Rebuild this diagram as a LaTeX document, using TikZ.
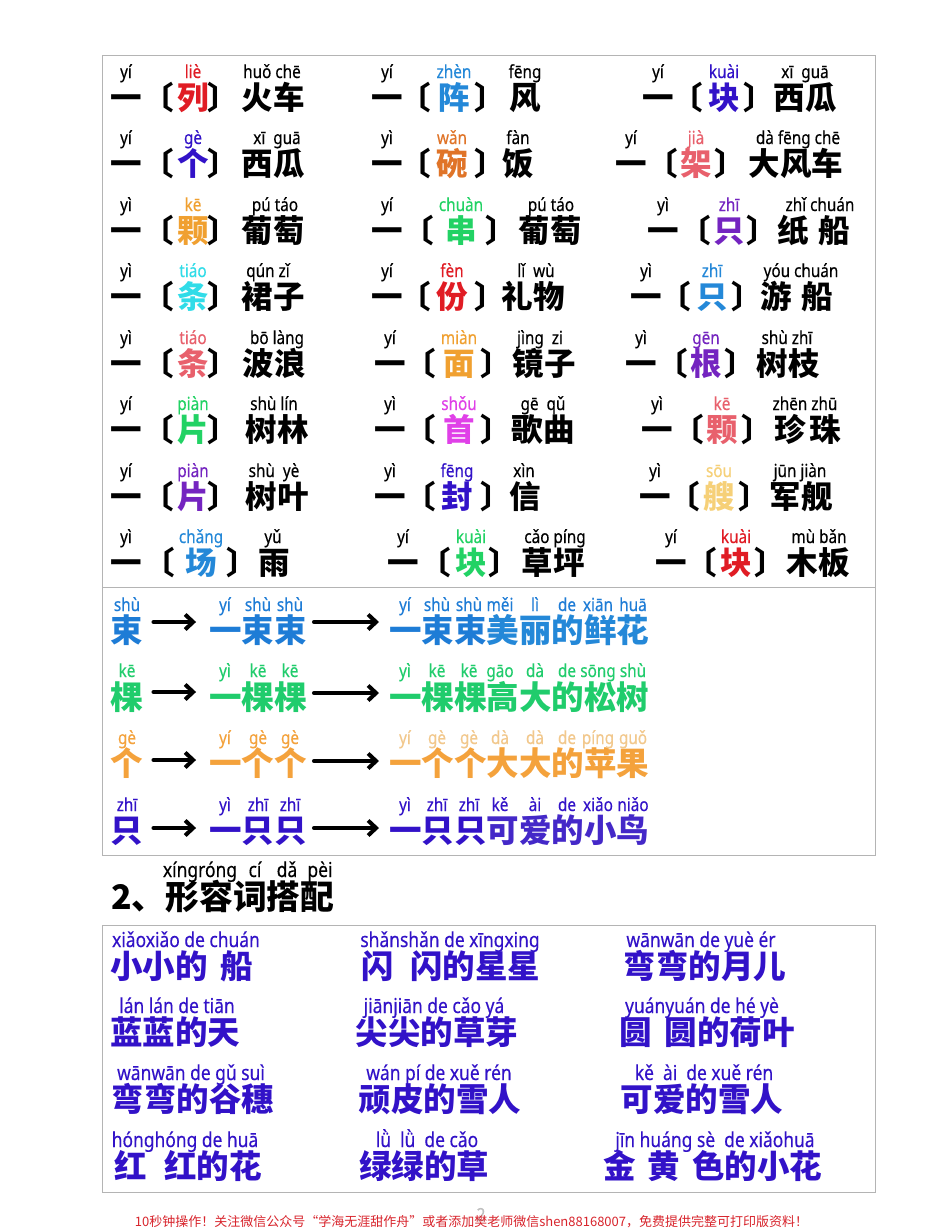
\documentclass[tikz,border=0pt]{standalone}
\usepackage{fontspec}
\usepackage{tikz}
\usetikzlibrary{arrows.meta}
\newfontfamily\cjk{Noto Sans CJK SC}
\newfontfamily\pyfont[FakeStretch=0.85,FakeBold=0.3]{Noto Sans}
\definecolor{boxgray}{HTML}{B4B4B4}
\definecolor{cred}{HTML}{E01C24}
\definecolor{cblue}{HTML}{2488D8}
\definecolor{cindigo}{HTML}{3212C8}
\definecolor{corange}{HTML}{E07428}
\definecolor{cpink}{HTML}{E8606C}
\definecolor{camber}{HTML}{F0A030}
\definecolor{cgreen}{HTML}{22D264}
\definecolor{cpurple}{HTML}{7424C0}
\definecolor{ccyan}{HTML}{30DCE8}
\definecolor{cmagenta}{HTML}{E040E8}
\definecolor{csand}{HTML}{F6D078}
\definecolor{sblue}{HTML}{1E7CD6}
\definecolor{sgreen}{HTML}{20CC6C}
\definecolor{sorange}{HTML}{F4A23C}
\definecolor{spale}{HTML}{F2C88C}
\definecolor{sviolet}{HTML}{4428C8}
\definecolor{footred}{HTML}{D8242C}
\begin{document}
\begin{tikzpicture}[
x=1pt,y=-1pt,
hanzi/.style={font=\cjk\bfseries\fontsize{31.5}{31.5}\selectfont,inner sep=0pt,anchor=base},
bighan/.style={font=\cjk\bfseries\fontsize{32.5}{32.5}\selectfont,inner sep=0pt,anchor=base},
pinyin/.style={font=\pyfont\fontsize{18}{18}\selectfont,inner sep=0pt,anchor=base},
bigpinyin/.style={font=\pyfont\fontsize{20.5}{20.5}\selectfont,inner sep=0pt,anchor=base},
flow/.style={line width=4pt,line cap=round,-{Straight Barb[length=8pt,width=15pt,line width=4pt]}},
shortflow/.style={flow,shorten <=10pt,shorten >=13pt},
longflow/.style={flow,shorten <=7pt,shorten >=10pt}
]
    \useasboundingbox (0,0) rectangle (950,1232);
    \fill [white] (0,0) rectangle (950,1232);

    % Draw frames
    \draw [boxgray,line width=1pt] (102,55) rectangle (875,587);
    \draw [boxgray,line width=1pt] (102,587) rectangle (875,855);
    \draw [boxgray,line width=1pt] (102,925) rectangle (875,1192);

    % measure words
    \foreach \ry/\xa/\pa/\xl/\xm/\xr/\pym/\hz/\col/\xp/\pn/\xn/\nn [count=\i] in {
        98/126/yí/166/193/215/liè/列/cred/272/huǒ chē/273/火车,
        98/387/yí/423/454/482/zhèn/阵/cblue/525/fēng/525/风,
        98/658/yí/695/724/751/kuài/块/cindigo/805/xī\ \ guā/805/西瓜,
        164/126/yí/166/193/215/gè/个/cindigo/277/xī\ \ guā/273/西瓜,
        164/387/yì/423/452/482/wǎn/碗/corange/518/fàn/518/饭,
        164/631/yí/670/696/722/jià/架/cpink/798/dà fēng chē/796/大风车,
        231/126/yì/166/193/215/kē/颗/camber/275/pú táo/273/葡萄,
        231/387/yí/426/461/493/chuàn/串/cgreen/551/pú táo/550/葡萄,
        231/663/yì/703/729/754/zhī/只/cpurple/820/zhǐ chuán/814/纸\hspace{10pt}船,
        297/126/yì/166/193/215/tiáo/条/ccyan/268/qún zǐ/273/裙子,
        297/387/yí/423/452/482/fèn/份/cred/536/lǐ\ \ wù/533/礼物,
        297/646/yì/683/712/739/zhī/只/cblue/801/yóu chuán/797/游\hspace{10pt}船,
        364/126/yì/166/193/215/tiáo/条/cpink/277/bō làng/274/波浪,
        364/390/yí/428/459/488/miàn/面/camber/540/jìng\ \ zi/544/镜子,
        364/641/yì/680/706/732/gēn/根/cpurple/787/shù zhī/788/树枝,
        430/126/yí/166/193/215/piàn/片/cgreen/274/shù lín/277/树林,
        430/390/yì/428/459/488/shǒu/首/cmagenta/543/gē\ \ qǔ/543/歌曲,
        430/657/yì/696/722/749/kē/颗/cpink/805/zhēn zhū/808/珍\hspace{4pt}珠,
        497/126/yí/166/193/215/piàn/片/cpurple/274/shù\ \ yè/277/树叶,
        497/390/yì/428/457/488/fēng/封/cindigo/524/xìn/525/信,
        497/655/yì/692/719/746/sōu/艘/csand/800/jūn jiàn/801/军舰,
        563/126/yì/167/201/234/chǎng/场/cblue/273/yǔ/274/雨,
        563/403/yí/443/471/496/kuài/块/cgreen/555/cǎo píng/553/草坪,
        563/671/yí/709/736/762/kuài/块/cred/819/mù bǎn/818/木板} {
        \node [pinyin] (yipy\i) at (\xa,\ry-20) {\pa};
        \node [hanzi] (yihan\i) at (\xa,\ry+11.5) {一};
        \node [hanzi,xshift=-8pt] (lb\i) at (\xl,\ry+11.5) {〔};
        \node [pinyin,text=\col] (mpy\i) at (\xm,\ry-20) {\pym};
        \node [hanzi,text=\col] (mhan\i) at (\xm,\ry+11.5) {\hz};
        \node [hanzi,xshift=8pt] (rb\i) at (\xr,\ry+11.5) {〕};
        \node [pinyin] (npy\i) at (\xp,\ry-20) {\pn};
        \node [hanzi] (nhan\i) at (\xn,\ry+11.5) {\nn};
    }

    % one, then many, then the whole phrase
    \node [bighan,text=sblue] (shuA) at (127,642) {束};
    \node [bighan,text=sblue] (shuB) at (258,642) {一束束};
    \node [bighan,text=sblue,anchor=base west] (shuC) at (389,642) {一束束{\color{cblue}美丽的鲜花}};
    \node [bighan,text=sgreen] (keA) at (127,709) {棵};
    \node [bighan,text=sgreen] (keB) at (258,709) {一棵棵};
    \node [bighan,text=sgreen,anchor=base west] (keC) at (389,709) {一棵棵高大的松树};
    \node [bighan,text=sorange] (geA) at (127,775) {个};
    \node [bighan,text=sorange] (geB) at (258,775) {一个个};
    \node [bighan,text=sorange,anchor=base west] (geC) at (389,775) {一个个大大的苹果};
    \node [bighan,text=cindigo] (zhiA) at (127,842) {只};
    \node [bighan,text=cindigo] (zhiB) at (258,842) {一只只};
    \node [bighan,text=cindigo,anchor=base west] (zhiC) at (389,842) {一只只{\color{sviolet}可爱的小鸟}};

    \draw [shortflow] ([yshift=20pt]shuA.base east) -- ([yshift=20pt]shuB.base west);
    \draw [longflow] ([yshift=20pt]shuB.base east) -- ([yshift=20pt]shuC.base west);
    \draw [shortflow] ([yshift=17pt]keA.base east) -- ([yshift=17pt]keB.base west);
    \draw [longflow] ([yshift=16pt]keB.base east) -- ([yshift=16pt]keC.base west);
    \draw [shortflow] ([yshift=15pt]geA.base east) -- ([yshift=15pt]geB.base west);
    \draw [longflow] ([yshift=14pt]geB.base east) -- ([yshift=14pt]geC.base west);
    \draw [shortflow] ([yshift=14pt]zhiA.base east) -- ([yshift=14pt]zhiB.base west);
    \draw [longflow] ([yshift=14pt]zhiB.base east) -- ([yshift=14pt]zhiC.base west);

    \foreach \xp/\pt in {127/shù,225/yí,258/shù,290/shù,405/yí,437/shù,469/shù,500/měi,535/lì,567/de,598/xiān,633/huā}
        \node [pinyin,text=sblue] (shupy\xp) at (\xp,611) {\pt};
    \foreach \xp/\pt in {127/kē,225/yì,258/kē,290/kē,405/yì,437/kē,469/kē,500/gāo,535/dà,567/de,598/sōng,633/shù}
        \node [pinyin,text=sgreen] (kepy\xp) at (\xp,677) {\pt};
    \foreach \xp/\pt in {127/gè,225/yí,258/gè,290/gè}
        \node [pinyin,text=sorange] (gepy\xp) at (\xp,744) {\pt};
    \foreach \xp/\pt in {405/yí,437/gè,469/gè,500/dà,535/dà,567/de,598/píng,633/guǒ}
        \node [pinyin,text=spale] (gepy\xp) at (\xp,744) {\pt};
    \foreach \xp/\pt in {127/zhī,225/yì,258/zhī,290/zhī,405/yì,437/zhī,469/zhī,500/kě,535/ài,567/de,598/xiǎo,633/niǎo}
        \node [pinyin,text=cindigo] (zhipy\xp) at (\xp,811) {\pt};

    % title
    \node [font=\cjk\bfseries\fontsize{33.8}{33.8}\selectfont,inner sep=0pt,anchor=base west] (title) at (111,909) {2、形容词搭配};
    \foreach \xp/\pt in {200/xíngróng,255/cí,287/dǎ,320/pèi}
        \node [bigpinyin] (titlepy\xp) at (\xp,877) {\pt};

    % adjectives
    \foreach \ry/\xp/\pt/\xh/\hz [count=\i] in {
        967/186/xiǎoxiǎo de chuán/181.5/小小的\hspace{13pt}船,
        967/450/shǎnshǎn de xīngxing/451/闪\hspace{16pt}闪的星星,
        967/701/wānwān de yuè ér/705/弯弯的月儿,
        1033/177/lán lán de tiān/175/蓝蓝的天,
        1033/434/jiānjiān de cǎo yá/437/尖尖的草芽,
        1033/702/yuányuán de hé yè/707/圆\hspace{13pt}圆的荷叶,
        1100/191/wānwān de gǔ suì/193/弯弯的谷穗,
        1100/439/wán pí de xuě rén/440/顽皮的雪人,
        1100/704/kě\ \ ài\ \ de xuě rén/702/可爱的雪人,
        1167/185/hónghóng de huā/188/红\hspace{18pt}红的花,
        1167/427/lǜ\ \ lǜ\ \ de cǎo/424/绿绿的草,
        1167/715/jīn huáng sè\ \ de xiǎohuā/713/金\hspace{12pt}黄\hspace{12pt}色的小花} {
        \node [bigpinyin,text=cindigo] (adjpy\i) at (\xp,\ry-20) {\pt};
        \node [bighan,text=cindigo] (adjhan\i) at (\xh,\ry+11.5) {\hz};
    }

    % page foot
    \node [pinyin,text=black!25] (pageno) at (481,1221) {2};
    \node [font=\cjk\fontsize{13}{13}\selectfont,text=footred,inner sep=0pt] (foot) at (471.5,1222)
        {10秒钟操作！关注微信公众号“学海无涯甜作舟”或者添加樊老师微信shen88168007，免费提供完整可打印版资料！};
\end{tikzpicture}
\end{document}
